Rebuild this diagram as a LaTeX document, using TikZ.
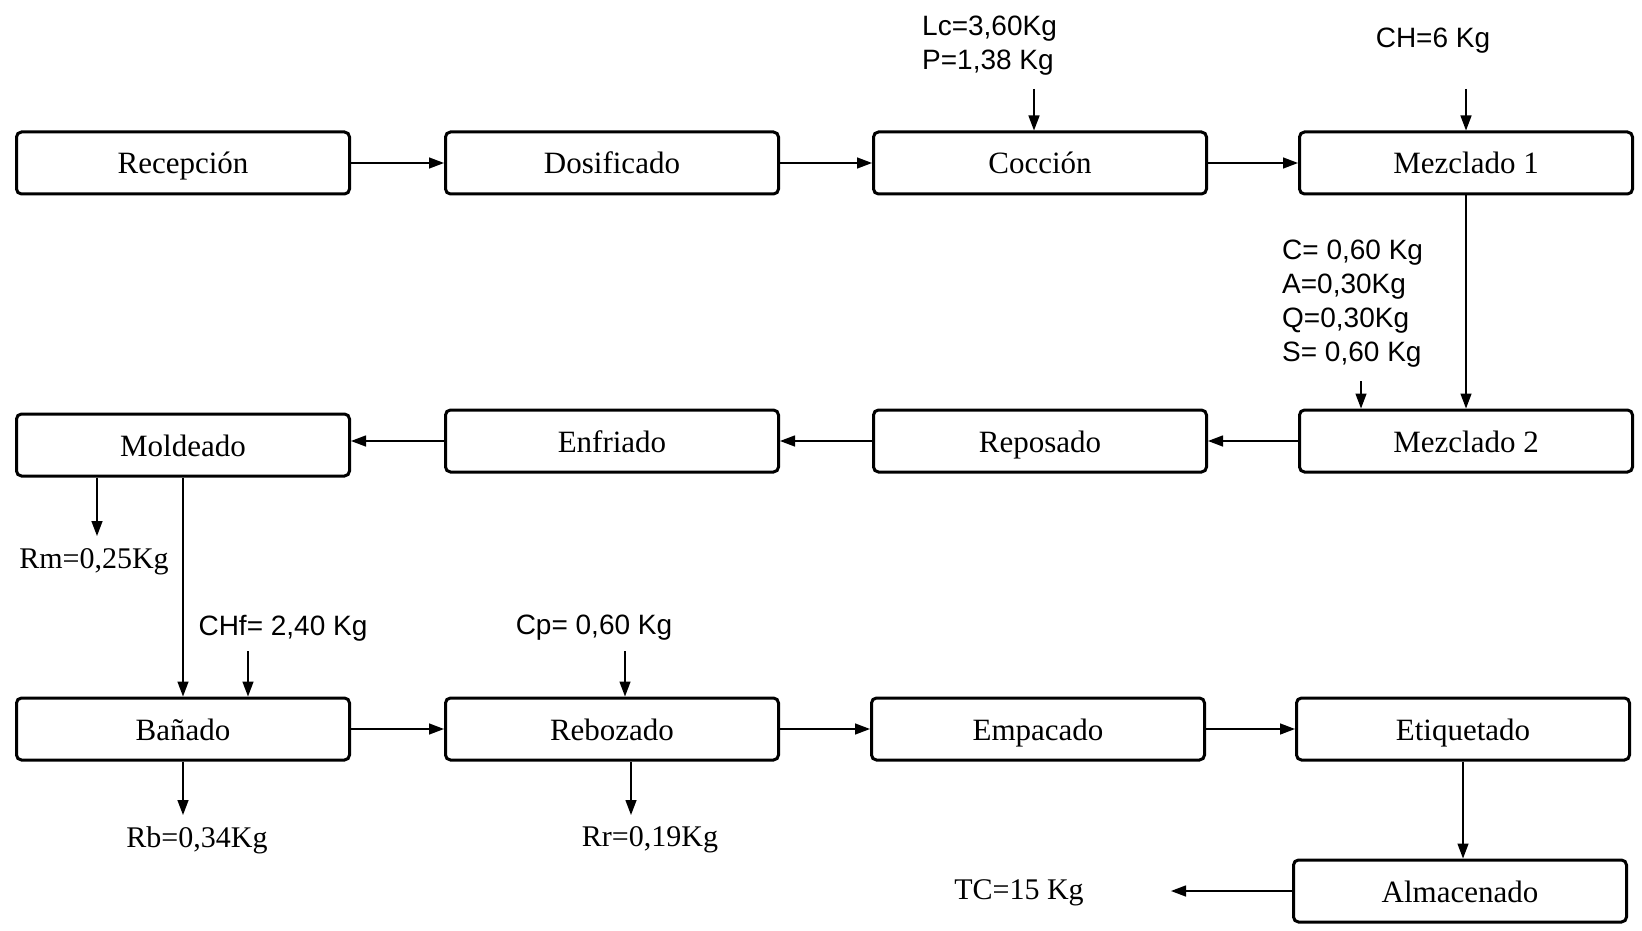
\documentclass[tikz,border=0pt]{standalone}
\usepackage{fontspec}
\setmainfont{Liberation Serif}
\newfontfamily\qtyfont{Liberation Sans}
\usepackage{tikz}
\usetikzlibrary{arrows.meta}

\begin{document}
\begin{tikzpicture}[x=1pt, y=-1pt,
    box/.style={rounded corners=5pt, minimum width=333pt, minimum height=62pt, text height=22pt, text depth=0pt, align=center, draw, line width=3pt, font=\fontsize{31}{37}\selectfont},
    flow/.style={-{Triangle[length=15pt, width=11pt]}, line width=1.4pt},
    qty/.style={inner sep=0pt, align=left, font=\fontsize{28}{34}\selectfont\qtyfont},
    rest/.style={inner sep=0pt, font=\fontsize{30}{36}\selectfont}
]
\useasboundingbox (0,0) rectangle (1642,931);

\node[box] (recep) at (183,163) {Recepción};
\node[box] (dosif) at (612,163) {Dosificado};
\node[box] (cocc) at (1040,163) {Cocción};
\node[box] (mez1) at (1466,163) {Mezclado 1};
\node[box] (mold) at (183,445) {Moldeado};
\node[box] (enfr) at (612,441) {Enfriado};
\node[box] (repo) at (1040,441) {Reposado};
\node[box] (mez2) at (1466,441) {Mezclado 2};
\node[box] (bana) at (183,729) {Bañado};
\node[box] (rebo) at (612,729) {Rebozado};
\node[box] (empa) at (1038,729) {Empacado};
\node[box] (etiq) at (1463,729) {Etiquetado};
\node[box] (alma) at (1460,891) {Almacenado};

\node[qty, anchor=west] (lcp) at (922,46) {Lc=3,60Kg\\P=1,38 Kg};
\node[qty] (ch) at (1433,41) {CH=6 Kg};
\node[qty, anchor=west] (caqs) at (1282,304) {C= 0,60 Kg\\A=0,30Kg\\Q=0,30Kg\\S= 0,60 Kg};
\node[qty] (chf) at (283,628) {CHf= 2,40 Kg};
\node[qty] (cp) at (594,628) {Cp= 0,60 Kg};
\node[rest] (rm) at (94,562) {Rm=0,25Kg};
\node[rest] (rb) at (197,840) {Rb=0,34Kg};
\node[rest] (rr) at (650,840) {Rr=0,19Kg};
\node[rest] (tc) at (1019,893) {TC=15 Kg};

\coordinate (lcin) at (1034,89);
\coordinate (chin) at (1466,89);
\coordinate (caqsin) at (1361,381);
\coordinate (chfin) at (248,651);
\coordinate (cpin) at (625,651);
\coordinate (rmout) at (97,536);
\coordinate (rbout) at (183,815);
\coordinate (rrout) at (631,815);
\coordinate (tcend) at (1171,891);

\draw[flow] (recep) -- (dosif);
\draw[flow] (dosif) -- (cocc);
\draw[flow] (cocc) -- (mez1);
\draw[flow] (mez1) -- (mez2);
\draw[flow] (mez2) -- (repo);
\draw[flow] (repo) -- (enfr);
\draw[flow] (enfr.west) -- (enfr.west -| mold.east);
\draw[flow] (mold) -- (bana);
\draw[flow] (bana) -- (rebo);
\draw[flow] (rebo) -- (empa);
\draw[flow] (empa) -- (etiq);
\draw[flow] (etiq.south) -- (etiq.south |- alma.north);
\draw[flow] (alma.west) -- (tcend);

\draw[flow] (lcin) -- (lcin |- cocc.north);
\draw[flow] (chin) -- (mez1.north);
\draw[flow] (caqsin) -- (caqsin |- mez2.north);
\draw[flow] (chfin) -- (chfin |- bana.north);
\draw[flow] (cpin) -- (cpin |- rebo.north);
\draw[flow] (mold.south -| rmout) -- (rmout);
\draw[flow] (bana.south) -- (rbout);
\draw[flow] (rebo.south -| rrout) -- (rrout);
\end{tikzpicture}
\end{document}
